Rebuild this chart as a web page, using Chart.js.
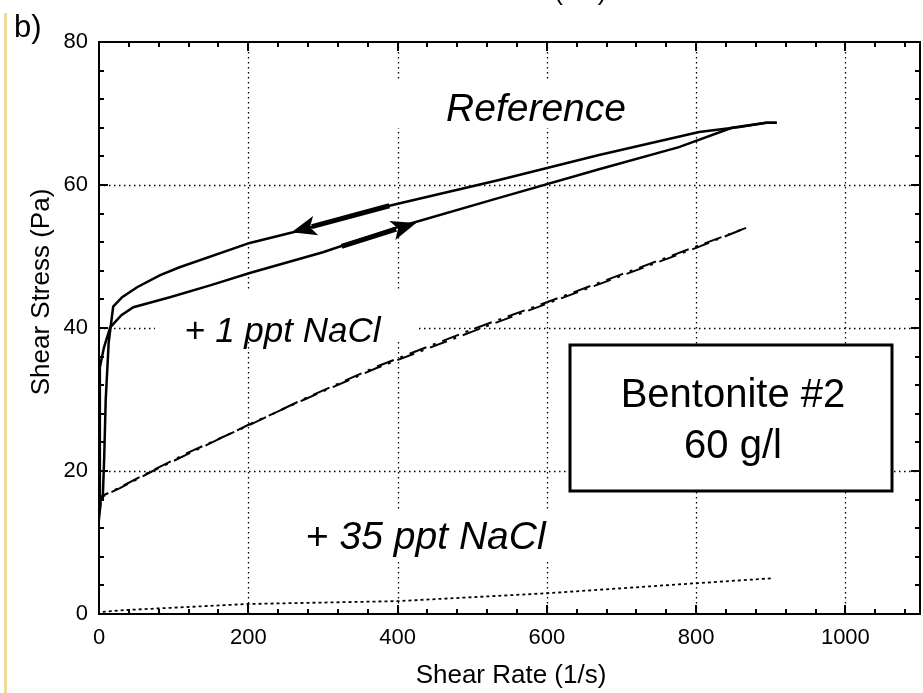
<!DOCTYPE html>
<html>
<head>
<meta charset="utf-8">
<script src="https://cdn.jsdelivr.net/npm/chart.js@4.4.0/dist/chart.umd.min.js"></script>
<style>
  html, body { margin: 0; padding: 0; background: #fff; }
  canvas { display: block; }
</style>
</head>
<body>
<canvas id="shearChart" width="923" height="693"></canvas>
<script>
const FONT = '"Liberation Sans", Arial, Helvetica, sans-serif';

const xTicks = [0, 200, 400, 600, 800, 1000];
const yTicks = [0, 20, 40, 60, 80];

// reference suspension, ramp up (lower branch) and ramp down (upper branch)
const refUp = [[0, 15], [1, 25], [1.3, 34.5], [6.7, 37.3], [15, 40.1], [30, 41.8], [46, 42.9],
  [95, 44.3], [150, 46], [202, 47.7], [300, 50.6], [400, 54.1], [536, 58.2], [670, 62.2],
  [777, 65.3], [848, 68], [894, 68.7], [908, 68.7]];
const refDown = [[908, 68.7], [894, 68.7], [858, 68.1], [804, 67.4], [670, 64.2], [536, 60.7],
  [389, 57.1], [260, 53.4], [202, 51.9], [108, 48.5], [82, 47.4], [51, 45.7], [31, 44.3],
  [19, 43], [13, 38], [9, 30], [7, 22], [5, 16]];

// + 1 ppt NaCl (both ramps, listed from low to high shear rate)
const ppt1Up = [[0, 13], [2, 15], [4, 16.4], [28, 17.6], [72, 20], [199, 26.4], [273, 29.9],
  [372, 34.4], [500, 39.5], [600, 43.4], [700, 47.3], [800, 51.2], [867, 54]];
const ppt1Down = [[1, 15], [4, 16.5], [28, 17.7], [72, 20.1], [120, 22.6], [199, 26.3],
  [273, 30.0], [372, 34.6], [500, 39.8], [600, 43.6], [700, 47.5], [800, 51.4], [867, 54]];

// + 35 ppt NaCl
const ppt35 = [[5, 0.3], [37, 0.56], [200, 1.4], [400, 1.8], [600, 2.9], [800, 4.3], [902, 5.0]];

// direction arrows: [tail, tip]
const arrowBack = [[389, 57.1], [258, 53.4]];
const arrowFwd = [[325, 51.4], [425, 54.7]];

const toXY = pts => pts.map(p => ({ x: p[0], y: p[1] }));

function line(ctx, x0, y0, x1, y1) {
  ctx.beginPath();
  ctx.moveTo(x0, y0);
  ctx.lineTo(x1, y1);
  ctx.stroke();
}

function drawArrow(ctx, xs, ys, pts) {
  const x0 = xs.getPixelForValue(pts[0][0]), y0 = ys.getPixelForValue(pts[0][1]);
  const x1 = xs.getPixelForValue(pts[1][0]), y1 = ys.getPixelForValue(pts[1][1]);
  const ang = Math.atan2(y1 - y0, x1 - x0);
  const hl = 25, hw = 10;
  const c = Math.cos(ang), s = Math.sin(ang);
  const bx = x1 - hl * c, by = y1 - hl * s;
  ctx.lineWidth = 5;
  ctx.lineCap = 'butt';
  line(ctx, x0, y0, bx + 4 * c, by + 4 * s);
  ctx.beginPath();
  ctx.moveTo(x1, y1);
  ctx.lineTo(bx + hw * s, by - hw * c);
  ctx.lineTo(bx + 6 * c, by + 6 * s);
  ctx.lineTo(bx - hw * s, by + hw * c);
  ctx.closePath();
  ctx.fill();
}

const decor = {
  id: 'decor',
  beforeDatasetsDraw(chart) {
    const { ctx, chartArea: a, scales: { x, y } } = chart;
    ctx.save();
    // dotted grid
    ctx.strokeStyle = '#000';
    ctx.lineWidth = 1.3;
    ctx.setLineDash([1.5, 3.5]);
    xTicks.forEach(v => {
      if (v <= 0) return;
      const px = Math.round(x.getPixelForValue(v)) + 0.5;
      line(ctx, px, a.top, px, a.bottom);
    });
    yTicks.forEach(v => {
      if (v <= 0 || v >= 80) return;
      const py = Math.round(y.getPixelForValue(v)) + 0.5;
      line(ctx, a.left, py, a.right, py);
    });
    ctx.setLineDash([]);

    // white backgrounds behind the labels
    ctx.fillStyle = '#fff';
    ctx.fillRect(390, 82, 300, 46);
    ctx.fillRect(155, 292, 262, 50);
    ctx.fillRect(285, 510, 300, 52);

    ctx.fillStyle = '#000';
    ctx.textBaseline = 'alphabetic';
    ctx.textAlign = 'center';
    ctx.font = 'italic 39px ' + FONT;
    ctx.fillText('Reference', 536, 121);

    ctx.textAlign = 'left';
    ctx.font = '35px ' + FONT;
    let w = ctx.measureText('+ ').width;
    ctx.fillText('+ ', 185, 342);
    ctx.font = 'italic 35px ' + FONT;
    ctx.fillText('1 ppt NaCl', 185 + w, 342);

    ctx.font = '39px ' + FONT;
    w = ctx.measureText('+ ').width;
    ctx.fillText('+ ', 306, 549);
    ctx.font = 'italic 39px ' + FONT;
    ctx.fillText('35 ppt NaCl', 306 + w, 549);

    // sample box
    ctx.fillStyle = '#fff';
    ctx.fillRect(570, 345, 322, 146);
    ctx.strokeStyle = '#000';
    ctx.lineWidth = 3;
    ctx.strokeRect(570, 345, 322, 146);
    ctx.fillStyle = '#000';
    ctx.textAlign = 'center';
    ctx.font = '40px ' + FONT;
    ctx.fillText('Bentonite #2', 733, 407);
    ctx.fillText('60 g/l', 733, 458);
    ctx.restore();
  },
  afterDatasetsDraw(chart) {
    const { ctx, chartArea: a, scales: { x, y } } = chart;
    ctx.save();
    ctx.strokeStyle = '#000';
    ctx.fillStyle = '#000';

    // frame
    ctx.lineWidth = 2;
    ctx.strokeRect(a.left, a.top, a.right - a.left, a.bottom - a.top);

    // inward ticks on all four sides
    for (let v = 40; v < 1100; v += 40) {
      const len = v % 200 === 0 ? 9 : 5;
      const px = Math.round(x.getPixelForValue(v));
      line(ctx, px, a.bottom, px, a.bottom - len);
      line(ctx, px, a.top, px, a.top + len);
    }
    for (let v = 4; v < 80; v += 4) {
      const len = v % 20 === 0 ? 9 : 5;
      const py = Math.round(y.getPixelForValue(v));
      line(ctx, a.left, py, a.left + len, py);
      line(ctx, a.right, py, a.right - len, py);
    }

    drawArrow(ctx, x, y, arrowBack);
    drawArrow(ctx, x, y, arrowFwd);

    // axis titles
    ctx.textBaseline = 'alphabetic';
    ctx.textAlign = 'center';
    ctx.font = '26px ' + FONT;
    ctx.fillText('Shear Rate (1/s)', 511, 683);
    ctx.fillText('Shear Rate (1/s)', 511, 0);
    ctx.save();
    ctx.translate(49, 292);
    ctx.rotate(-Math.PI / 2);
    ctx.fillText('Shear Stress (Pa)', 0, 0);
    ctx.restore();

    ctx.textAlign = 'left';
    ctx.font = '31px ' + FONT;
    ctx.fillText('b)', 14, 37);

    ctx.fillStyle = '#efd99c';
    ctx.fillRect(4, 13, 3, 680);
    ctx.restore();
  }
};

const ctx = document.getElementById('shearChart').getContext('2d');
new Chart(ctx, {
  type: 'scatter',
  data: {
    datasets: [
      { label: 'Reference up', data: toXY(refUp), borderColor: '#000', borderWidth: 2.5 },
      { label: 'Reference down', data: toXY(refDown), borderColor: '#000', borderWidth: 2.5 },
      { label: '+ 1 ppt NaCl up', data: toXY(ppt1Up), borderColor: '#000', borderWidth: 2,
        borderDash: [18, 7, 3, 7] },
      { label: '+ 1 ppt NaCl down', data: toXY(ppt1Down), borderColor: '#000', borderWidth: 2,
        borderDash: [18, 7, 3, 7] },
      { label: '+ 35 ppt NaCl', data: toXY(ppt35), borderColor: '#000', borderWidth: 1.8,
        borderDash: [3, 3] }
    ].map(d => Object.assign(d, { showLine: true, pointRadius: 0, fill: false, tension: 0 }))
  },
  options: {
    responsive: false,
    animation: false,
    devicePixelRatio: 1,
    layout: { padding: { top: 42, right: 3, left: 0, bottom: 0 } },
    plugins: { legend: { display: false }, tooltip: { enabled: false } },
    scales: {
      x: {
        type: 'linear', min: 0, max: 1100,
        afterFit: s => { s.height = 79; },
        grid: { display: false, drawTicks: false },
        border: { display: false },
        ticks: { stepSize: 200, includeBounds: false, autoSkip: false, maxRotation: 0,
          color: '#000', padding: 11, font: { family: FONT, size: 22 },
          callback: v => String(v) }
      },
      y: {
        type: 'linear', min: 0, max: 80,
        afterFit: s => { s.width = 99; },
        grid: { display: false, drawTicks: false },
        border: { display: false },
        ticks: { stepSize: 20, includeBounds: false, autoSkip: false,
          color: '#000', padding: 11, font: { family: FONT, size: 22 },
          callback: v => String(v) }
      }
    }
  },
  plugins: [decor]
});
</script>
</body>
</html>
